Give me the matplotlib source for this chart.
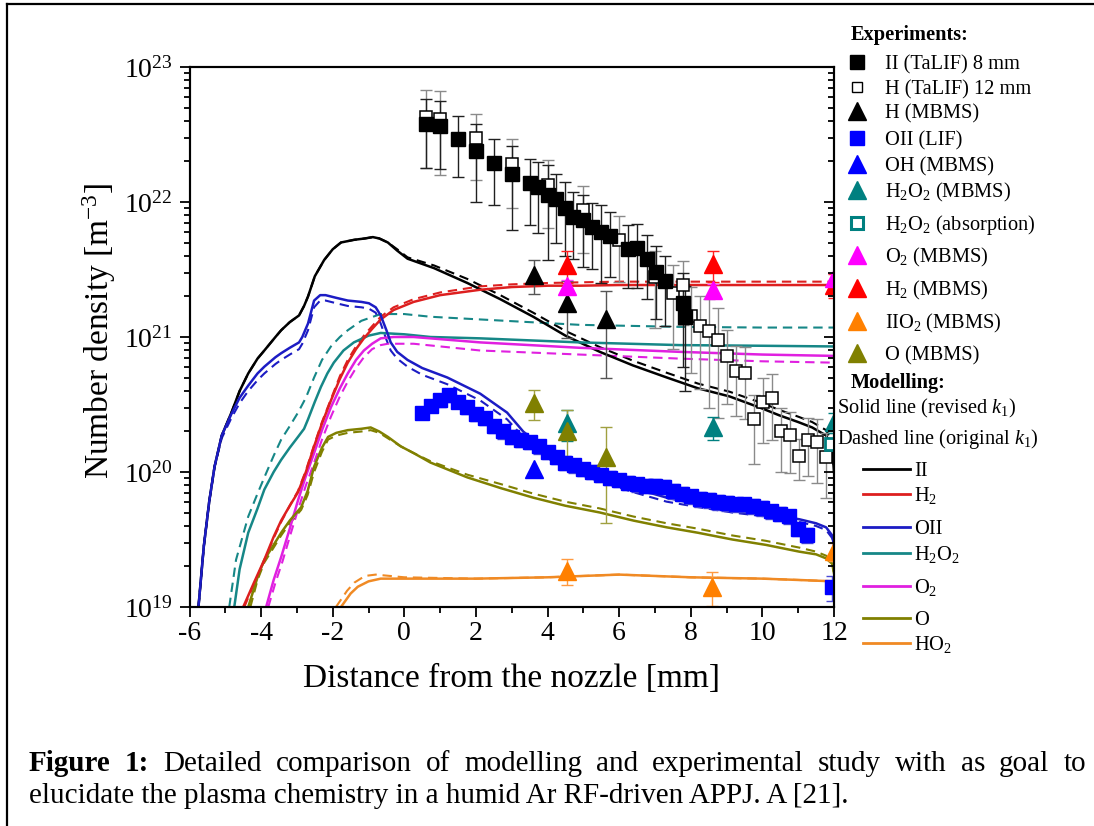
import numpy as np
import matplotlib
matplotlib.use('Agg')
import matplotlib.pyplot as plt
from matplotlib.lines import Line2D
from matplotlib.ticker import MultipleLocator, LogLocator, NullFormatter

plt.rcParams['font.family'] = ['Liberation Serif', 'DejaVu Serif']
plt.rcParams['mathtext.fontset'] = 'custom'
plt.rcParams['mathtext.rm'] = 'Liberation Serif'
plt.rcParams['mathtext.it'] = 'Liberation Serif:italic'
plt.rcParams['mathtext.bf'] = 'Liberation Serif:bold'

# ---------------- experimental data ----------------
h8_x = [0.61, 1.0, 1.51, 2.0, 2.51, 3.01, 3.51, 3.74, 4.0, 4.24, 4.49, 4.72, 4.98, 5.23,
        5.49, 5.75, 6.26, 6.51, 6.77, 7.02, 7.28, 7.78, 7.84]
h8_y = [3.80e22, 3.67e22, 2.92e22, 2.40e22, 1.95e22, 1.62e22, 1.38e22, 1.29e22, 1.12e22,
        1.05e22, 9.0e21, 7.8e21, 7.3e21, 6.5e21, 6.0e21, 5.6e21, 4.5e21, 4.6e21, 3.8e21,
        3.05e21, 2.6e21, 1.8e21, 1.4e21]
h8_err = [2.0e22, 1.9e22, 1.4e22, 1.4e22, 1.0e22, 1.0e22, 0.7e22, 0.7e22, 0.75e22, 0.55e22,
          0.5e22, 0.4e22, 0.4e22, 0.33e22, 0.35e22, 0.28e22, 0.22e22, 0.23e22, 0.19e22,
          0.17e22, 0.14e22, 0.12e22, 0.1e22]

h12_x = [0.61, 1.0, 2.0, 3.01, 4.0, 5.0, 6.0, 7.0, 7.5, 7.78, 8.01, 8.26, 8.51, 8.77, 9.02,
         9.27, 9.52, 9.77, 10.01, 10.26, 10.51, 10.77, 11.03, 11.27, 11.52, 11.77]
h12_y = [4.29e22, 4.09e22, 2.96e22, 1.91e22, 1.34e22, 8.7e21, 5.24e21, 2.77e21, 2.11e21,
         2.43e21, 1.44e21, 1.21e21, 1.10e21, 9.5e20, 7.2e20, 5.6e20, 5.45e20, 2.45e20,
         3.28e20, 3.52e20, 2.0e20, 1.88e20, 1.32e20, 1.73e20, 1.66e20, 1.29e20]
h12_err = [2.5e22, 2.5e22, 1.5e22, 1.0e22, 0.7e22, 4.5e21, 2.7e21, 1.6e21, 1.3e21, 1.2e21,
           0.9e21, 0.8e21, 0.8e21, 0.7e21, 4e20, 3e20, 3e20, 1.3e20, 1.65e20, 1.8e20,
           1.0e20, 0.9e20, 0.45e20, 0.8e20, 0.83e20, 0.65e20]

h_mbms_x = [3.63, 4.55, 5.63]
h_mbms_y = [2.9e21, 1.78e21, 1.35e21]
h_mbms_err = [0.8e21, 0.8e21, 0.85e21]

oh_lif_x = [0.5, 0.75, 1.0, 1.25, 1.5, 1.75, 2.0, 2.25, 2.5, 2.75, 3.0, 3.25, 3.5, 3.75, 4.0,
            4.25, 4.5, 4.75, 5.0, 5.25, 5.5, 5.75, 6.0, 6.25, 6.5, 6.75, 7.0, 7.25, 7.5, 7.75,
            8.0, 8.25, 8.5, 8.75, 9.0, 9.25, 9.5, 9.75, 10.0, 10.25, 10.5, 10.75, 11.0, 11.25,
            11.95]
oh_lif_y = [2.75e20, 3.09e20, 3.39e20, 3.72e20, 3.31e20, 3.02e20, 2.69e20, 2.51e20, 2.19e20,
            2.0e20, 1.82e20, 1.74e20, 1.66e20, 1.55e20, 1.41e20, 1.29e20, 1.17e20, 1.12e20,
            1.05e20, 1.0e20, 9.5e19, 9.1e19, 8.7e19, 8.3e19, 8.1e19, 7.9e19, 7.9e19, 7.8e19,
            7.2e19, 6.9e19, 6.6e19, 6.3e19, 6.2e19, 6.0e19, 5.9e19, 5.75e19, 5.75e19, 5.6e19,
            5.4e19, 5.1e19, 4.9e19, 4.7e19, 3.8e19, 3.4e19, 1.41e19]
oh_lif_err = [3.0e19, 3.2e19, 3.5e19, 4.0e19, 3.5e19, 3.2e19, 3.0e19, 2.8e19, 2.5e19, 2.3e19,
              2.1e19, 2.0e19, 1.9e19, 1.8e19, 1.6e19, 1.5e19, 1.4e19, 1.3e19, 1.2e19, 1.2e19,
              1.1e19, 1.1e19, 1.0e19, 1.0e19, 1.0e19, 0.95e19, 0.95e19, 0.95e19, 0.9e19,
              0.85e19, 0.8e19, 0.8e19, 0.75e19, 0.75e19, 0.72e19, 0.7e19, 0.7e19, 0.68e19,
              0.65e19, 0.62e19, 0.6e19, 0.57e19, 0.47e19, 0.42e19, 0.3e19]

oh_mbms_x = [3.63]
oh_mbms_y = [1.05e20]

h2o2_mbms_x = [4.55, 8.61, 12.0]
h2o2_mbms_y = [2.3e20, 2.14e20, 2.34e20]
h2o2_mbms_err = [0.6e20, 0.4e20, 0.4e20]

h2o2_abs_x = [11.93]
h2o2_abs_y = [1.62e20]

o2_mbms_x = [4.55, 8.61, 12.0]
o2_mbms_y = [2.4e21, 2.24e21, 2.75e21]
o2_mbms_err = [0.25e21, 0.25e21, 0.25e21]

h2_mbms_x = [4.55, 8.61, 12.0]
h2_mbms_y = [3.4e21, 3.45e21, 2.43e21]
h2_mbms_err = [0.9e21, 0.9e21, 0.5e21]

ho2_mbms_x = [4.55, 8.58, 12.0]
ho2_mbms_y = [1.86e19, 1.41e19, 2.6e19]
ho2_mbms_err = [0.4e19, 0.4e19, 0.4e19]

o_mbms_x = [3.63, 4.55, 5.63]
o_mbms_y = [3.24e20, 2.0e20, 1.29e20]
o_mbms_err = [0.8e20, 0.9e20, 0.87e20]

# ---------------- model curves (log10 of number density) ----------------
h_sol_x = [-5.75, -5.6, -5.45, -5.3, -5.1, -4.83, -4.6, -4.36, -4.1, -3.91, -3.6, -3.44, -3.2,
           -2.94, -2.8, -2.69, -2.5, -2.24, -2.0, -1.77, -1.4, -1.1, -0.88, -0.7, -0.46, -0.2,
           0.09, 0.83, 1.76, 2.68, 3.6, 4.5, 5.46, 6.38, 7.33, 8.2, 9.08, 10.0, 10.47, 11.0,
           11.39, 11.78, 11.95, 12.0]
h_sol_log = [19.0, 19.45, 19.78, 20.04, 20.27, 20.44, 20.6, 20.73, 20.84, 20.90, 21.0, 21.05,
             21.11, 21.16, 21.23, 21.30, 21.45, 21.57, 21.65, 21.70, 21.72, 21.73, 21.74, 21.73,
             21.70, 21.64, 21.58, 21.51, 21.40, 21.28, 21.15, 21.01, 20.89, 20.79, 20.70,
             20.62, 20.56, 20.47, 20.42, 20.37, 20.33, 20.27, 20.18, 20.0]
h_das_x = h_sol_x
h_das_log = [19.0, 19.45, 19.78, 20.04, 20.27, 20.44, 20.6, 20.73, 20.84, 20.90, 21.0, 21.05,
             21.11, 21.16, 21.23, 21.30, 21.45, 21.57, 21.65, 21.70, 21.72, 21.73, 21.74, 21.73,
             21.70, 21.65, 21.59, 21.53, 21.43, 21.31, 21.18, 21.045, 20.925, 20.825, 20.735,
             20.655, 20.595, 20.51, 20.46, 20.41, 20.37, 20.31, 20.22, 20.0]

oh_sol_x = [-5.75, -5.6, -5.45, -5.3, -5.1, -4.83, -4.6, -4.36, -4.1, -3.91, -3.6, -3.44, -3.2,
            -2.94, -2.85, -2.69, -2.52, -2.35, -2.2, -1.9, -1.58, -1.2, -0.99, -0.8, -0.66,
            -0.5, -0.38, -0.2, 0.09, 0.5, 1.2, 2.12, 2.87, 3.32, 4.0, 4.7, 5.46, 6.4, 7.33,
            8.2, 9.16, 10.1, 11.03, 11.5, 11.78, 11.95, 12.0]
oh_sol_log = [19.0, 19.45, 19.78, 20.04, 20.27, 20.43, 20.55, 20.64, 20.73, 20.78, 20.85,
              20.88, 20.92, 20.96, 21.0, 21.10, 21.27, 21.31, 21.31, 21.29, 21.27, 21.26,
              21.25, 21.22, 21.16, 21.05, 20.96, 20.89, 20.83, 20.77, 20.70, 20.58, 20.44,
              20.30, 20.15, 20.03, 19.96, 19.88, 19.81, 19.76, 19.72, 19.69, 19.65, 19.62,
              19.59, 19.53, 19.45]
oh_das_x = oh_sol_x
oh_das_log = [19.0, 19.45, 19.78, 20.04, 20.25, 20.40, 20.51, 20.60, 20.68, 20.73, 20.80,
              20.83, 20.87, 20.91, 20.95, 21.05, 21.22, 21.27, 21.27, 21.25, 21.23, 21.22,
              21.21, 21.18, 21.10, 20.98, 20.90, 20.84, 20.78, 20.72, 20.65, 20.53, 20.39,
              20.26, 20.10, 20.00, 19.93, 19.85, 19.78, 19.74, 19.70, 19.67, 19.63, 19.60,
              19.57, 19.51, 19.43]

h2_sol_x = [-4.5, -4.2, -3.91, -3.65, -3.44, -3.2, -2.97, -2.75, -2.52, -2.3, -2.05, -1.8,
            -1.58, -1.35, -1.13, -0.9, -0.66, -0.3, 0.26, 1.0, 2.12, 3.0, 4.0, 4.9, 6.0, 8.0,
            10.0, 12.0]
h2_sol_log = [19.0, 19.18, 19.35, 19.52, 19.64, 19.75, 19.85, 20.0, 20.19, 20.36, 20.53,
              20.69, 20.81, 20.91, 20.99, 21.06, 21.13, 21.20, 21.26, 21.31, 21.35, 21.37,
              21.38, 21.38, 21.385, 21.385, 21.385, 21.385]
h2_das_x = [-4.47, -4.2, -3.91, -3.65, -3.44, -3.2, -2.97, -2.75, -2.52, -2.3, -2.05, -1.8,
            -1.58, -1.35, -1.13, -0.9, -0.66, -0.3, 0.26, 1.0, 2.12, 3.0, 4.0, 4.9, 6.0, 8.0,
            10.0, 12.0]
h2_das_log = [19.0, 19.17, 19.34, 19.51, 19.63, 19.75, 19.86, 20.01, 20.2, 20.37, 20.54,
              20.71, 20.83, 20.93, 21.01, 21.08, 21.15, 21.22, 21.28, 21.33, 21.375, 21.39,
              21.40, 21.405, 21.41, 21.41, 21.41, 21.41]

h2o2_sol_x = [-4.75, -4.6, -4.36, -4.1, -3.91, -3.65, -3.44, -3.2, -2.97, -2.8, -2.69, -2.5,
              -2.33, -2.15, -1.97, -1.7, -1.41, -1.0, -0.66, 0.0, 0.73, 2.12, 4.9, 7.69, 10.0,
              12.0]
h2o2_sol_log = [19.0, 19.28, 19.55, 19.73, 19.87, 20.0, 20.09, 20.18, 20.26, 20.32, 20.39,
                20.52, 20.63, 20.73, 20.81, 20.90, 20.96, 21.01, 21.03, 21.02, 21.00, 20.99,
                20.96, 20.94, 20.935, 20.93]
h2o2_das_x = [-4.89, -4.7, -4.36, -4.1, -3.91, -3.65, -3.44, -3.2, -2.97, -2.75, -2.52, -2.3,
              -2.05, -1.8, -1.58, -1.2, -0.66, 0.0, 0.73, 2.12, 4.9, 7.69, 10.0, 12.0]
h2o2_das_log = [19.0, 19.35, 19.67, 19.84, 19.96, 20.12, 20.24, 20.34, 20.44, 20.55, 20.70,
                20.83, 20.93, 21.0, 21.05, 21.12, 21.17, 21.17, 21.15, 21.13, 21.09, 21.075,
                21.07, 21.07]

o2_sol_x = [-3.86, -3.65, -3.44, -3.2, -2.97, -2.75, -2.52, -2.3, -2.05, -1.8, -1.58, -1.35,
            -1.13, -0.9, -0.66, -0.3, 0.26, 2.12, 4.9, 7.69, 10.0, 12.0]
o2_sol_log = [19.0, 19.2, 19.37, 19.58, 19.79, 19.97, 20.14, 20.31, 20.48, 20.62, 20.73,
              20.83, 20.90, 20.95, 20.99, 21.0, 21.0, 20.96, 20.92, 20.89, 20.87, 20.86]
o2_das_x = [-3.8, -3.6, -3.4, -3.2, -2.97, -2.75, -2.52, -2.3, -2.05, -1.8, -1.58, -1.35,
            -1.13, -0.9, -0.66, -0.46, 0.26, 2.12, 4.9, 7.69, 10.0, 12.0]
o2_das_log = [19.0, 19.18, 19.34, 19.52, 19.72, 19.9, 20.07, 20.24, 20.41, 20.56, 20.67,
              20.77, 20.85, 20.91, 20.94, 20.95, 20.95, 20.90, 20.87, 20.84, 20.82, 20.81]

o_sol_x = [-4.36, -4.1, -3.91, -3.65, -3.44, -3.2, -2.88, -2.7, -2.52, -2.3, -2.13, -1.9,
           -1.58, -1.2, -0.94, -0.7, -0.46, -0.1, 0.26, 0.73, 1.76, 2.7, 3.6, 4.5, 5.46, 6.4,
           7.33, 8.2, 9.16, 10.1, 11.03, 11.5, 11.78, 11.95, 12.0]
o_sol_log = [19.0, 19.22, 19.35, 19.46, 19.55, 19.64, 19.74, 19.86, 20.04, 20.18, 20.26,
             20.29, 20.31, 20.32, 20.33, 20.30, 20.26, 20.19, 20.14, 20.07, 19.96, 19.88,
             19.81, 19.75, 19.70, 19.64, 19.59, 19.55, 19.50, 19.46, 19.41, 19.39, 19.36,
             19.32, 19.25]
o_das_x = [-4.3, -4.1, -3.91, -3.65, -3.44, -3.2, -2.88, -2.7, -2.52, -2.3, -2.13, -1.9,
           -1.58, -1.2, -0.94, -0.7, -0.46, -0.1, 0.26, 0.73, 1.76, 2.7, 3.6, 4.5, 5.46, 6.4,
           7.33, 8.2, 9.16, 10.1, 11.03, 11.5, 11.78, 11.95, 12.0]
o_das_log = [19.0, 19.2, 19.33, 19.44, 19.53, 19.62, 19.72, 19.83, 20.0, 20.15, 20.24,
             20.27, 20.29, 20.30, 20.31, 20.29, 20.25, 20.19, 20.14, 20.08, 19.98, 19.91,
             19.84, 19.78, 19.73, 19.67, 19.62, 19.58, 19.53, 19.49, 19.44, 19.41, 19.38,
             19.33, 19.25]

ho2_sol_x = [-1.77, -1.5, -1.3, -1.0, -0.66, 0.0, 2.0, 4.0, 5.0, 6.0, 7.0, 8.0, 10.0, 11.03, 12.0]
ho2_sol_log = [19.0, 19.1, 19.15, 19.19, 19.21, 19.21, 19.21, 19.22, 19.23, 19.24, 19.23,
               19.22, 19.21, 19.20, 19.19]
ho2_das_x = [-1.91, -1.6, -1.4, -1.1, -0.8, 0.0, 2.0, 4.0, 5.0, 6.0, 7.0, 8.0, 10.0, 11.03, 12.0]
ho2_das_log = [19.0, 19.12, 19.18, 19.23, 19.24, 19.22, 19.21, 19.22, 19.23, 19.24, 19.23,
               19.22, 19.21, 19.20, 19.19]

x_ticks = [-6, -4, -2, 0, 2, 4, 6, 8, 10, 12]

C_H = 'black'
C_H2 = '#dd1f1f'
C_OH = '#1c1cc4'
C_H2O2 = '#168787'
C_O2 = '#e020e0'
C_O = '#808000'
C_HO2 = '#f08a24'

# ---------------- figure ----------------
W, H = 1094, 826
fig = plt.figure(figsize=(W / 100, H / 100), dpi=100)


def fx(px):
    return px / W


def fy(py):
    return 1 - py / H


L, R, T, B = 189.5, 834.0, 67.0, 607.0
ax = fig.add_axes([fx(L), fy(B), (R - L) / W, (B - T) / H])
ax.set_yscale('log')
ax.set_xlim(-6, 12)
ax.set_ylim(1e19, 1e23)

lw_s, lw_d = 1.8, 1.5
dash = (0, (4.5, 2.8))
models = [
    (h_sol_x, h_sol_log, h_das_x, h_das_log, C_H),
    (h2o2_sol_x, h2o2_sol_log, h2o2_das_x, h2o2_das_log, C_H2O2),
    (o2_sol_x, o2_sol_log, o2_das_x, o2_das_log, C_O2),
    (o_sol_x, o_sol_log, o_das_x, o_das_log, C_O),
    (ho2_sol_x, ho2_sol_log, ho2_das_x, ho2_das_log, C_HO2),
    (h2_sol_x, h2_sol_log, h2_das_x, h2_das_log, C_H2),
    (oh_sol_x, oh_sol_log, oh_das_x, oh_das_log, C_OH),
]
for xs, ls_, xd, ld, c in models:
    ax.plot(xd, 10 ** np.array(ld), color=c, lw=lw_d, ls=dash, zorder=2)
    ax.plot(xs, 10 ** np.array(ls_), color=c, lw=lw_s, zorder=2.1)

eb = dict(fmt='none', elinewidth=1.0, capsize=4.5, capthick=1.0, zorder=3)
ax.errorbar(h12_x, h12_y, yerr=h12_err, ecolor='#8a8a8a', **eb)
ax.errorbar(h8_x, h8_y, yerr=h8_err, ecolor='#202020', **eb)
ax.plot(h12_x, h12_y, ls='none', marker='s', ms=8.5, mfc='white', mec='black', mew=1.1, zorder=4)
ax.plot(h8_x, h8_y, ls='none', marker='s', ms=10, mfc='black', mec='black', zorder=4.1)

ax.errorbar(oh_lif_x, oh_lif_y, yerr=oh_lif_err, ecolor='#4a4ad6', **eb)
ax.plot(oh_lif_x, oh_lif_y, ls='none', marker='s', ms=9.5, mfc='#0000ff', mec='#0000ff', zorder=4)

tri = dict(ls='none', marker='^', ms=13, zorder=5)
ax.errorbar(h_mbms_x, h_mbms_y, yerr=h_mbms_err, ecolor='#555555', **eb)
ax.plot(h_mbms_x, h_mbms_y, mfc='black', mec='black', **tri)
ax.plot(oh_mbms_x, oh_mbms_y, mfc='#0000ff', mec='#0000ff', **tri)
ax.errorbar(h2o2_mbms_x, h2o2_mbms_y, yerr=h2o2_mbms_err, ecolor='#008080', **eb)
ax.plot(h2o2_mbms_x, h2o2_mbms_y, mfc='#008080', mec='#008080', **tri)
ax.plot(h2o2_abs_x, h2o2_abs_y, ls='none', marker='s', ms=8, mfc='white', mec='#008080',
        mew=2, zorder=5)
ax.errorbar(h2_mbms_x, h2_mbms_y, yerr=h2_mbms_err, ecolor='#ff2020', **eb)
ax.plot(h2_mbms_x, h2_mbms_y, mfc='#ff0000', mec='#ff0000', **tri)
ax.errorbar(o2_mbms_x, o2_mbms_y, yerr=o2_mbms_err, ecolor='#ff40ff', **eb)
ax.plot(o2_mbms_x, o2_mbms_y, mfc='#ff00ff', mec='#ff00ff', **tri)
ax.errorbar(ho2_mbms_x, ho2_mbms_y, yerr=ho2_mbms_err, ecolor='#ff9a40', **eb)
ax.plot(ho2_mbms_x, ho2_mbms_y, mfc='#ff8000', mec='#ff8000', **tri)
ax.errorbar(o_mbms_x, o_mbms_y, yerr=o_mbms_err, ecolor='#a0a040', **eb)
ax.plot(o_mbms_x, o_mbms_y, mfc='#808000', mec='#808000', **tri)

# axes styling
for s in ax.spines.values():
    s.set_linewidth(1.5)
ax.set_xticks(x_ticks)
ax.set_xticklabels([str(v) for v in x_ticks])
ax.xaxis.set_minor_locator(MultipleLocator(1))
ax.yaxis.set_major_locator(LogLocator(base=10, numticks=10))
ax.yaxis.set_minor_locator(LogLocator(base=10, subs=np.arange(2, 10), numticks=20))
ax.yaxis.set_minor_formatter(NullFormatter())
ax.tick_params(which='both', direction='out', top=False, right=False, width=1.3)
ax.tick_params(which='major', length=7)
ax.tick_params(which='minor', length=4)
ax.tick_params(axis='x', labelsize=20, pad=3)
ax.tick_params(axis='y', labelsize=20, pad=5)

ax2 = ax.twinx()
ax2.set_yscale('log')
ax2.set_ylim(1e19, 1e23)
ax2.yaxis.set_major_locator(LogLocator(base=10, numticks=10))
ax2.yaxis.set_minor_locator(LogLocator(base=10, subs=np.arange(2, 10), numticks=20))
ax2.yaxis.set_minor_formatter(NullFormatter())
ax2.tick_params(axis='y', which='both', direction='in', labelright=False, width=1.3)
ax2.tick_params(axis='y', which='major', length=7)
ax2.tick_params(axis='y', which='minor', length=4)
for s in ax2.spines.values():
    s.set_linewidth(1.5)

ax.set_xlabel('Distance from the nozzle [mm]', fontsize=24)
ax.xaxis.label.set_va('center')
ax.xaxis.set_label_coords(0.5, (B - 679) / (B - T))
ax.set_ylabel('Number density [m$^{\\mathregular{-3}}$]', fontsize=24)
ax.yaxis.label.set_va('center')
ax.yaxis.set_label_coords((99 - L) / (R - L), (B - 331) / (B - T))

# ---------------- legend (manual) ----------------
LFS = 14.7
mk_x = 857
tx = 885


def ftext(x, y, s, **kw):
    return fig.text(fx(x), fy(y + 7), s, fontsize=LFS, va='baseline', ha='left', **kw)


ftext(851, 33, 'Experiments:', fontweight='bold')
exp_rows = [
    (62, 's', 'black', 'black', 1.0, 10, 'II (TaLIF) 8 mm'),
    (87, 's', 'white', 'black', 1.0, 7.5, 'H (TaLIF) 12 mm'),
    (111, '^', 'black', 'black', 1.0, 13, 'H (MBMS)'),
    (138, 's', '#0000ff', '#0000ff', 1.0, 10, 'OII (LIF)'),
    (164, '^', '#0000ff', '#0000ff', 1.0, 13, 'OH (MBMS)'),
    (190, '^', '#008080', '#008080', 1.0, 13, 'H$_2$O$_2$ (MBMS)'),
    (223, 's', 'white', '#008080', 2.2, 9, 'H$_2$O$_2$ (absorption)'),
    (255, '^', '#ff00ff', '#ff00ff', 1.0, 13, 'O$_2$ (MBMS)'),
    (288, '^', '#ff0000', '#ff0000', 1.0, 13, 'H$_2$ (MBMS)'),
    (321, '^', '#ff8000', '#ff8000', 1.0, 13, 'IIO$_2$ (MBMS)'),
    (353, '^', '#808000', '#808000', 1.0, 13, 'O (MBMS)'),
]
for y, m, fc, ec, mew, ms, lab in exp_rows:
    fig.add_artist(Line2D([fx(mk_x)], [fy(y)], marker=m, ms=ms, mfc=fc, mec=ec, mew=mew,
                          ls='none', transform=fig.transFigure))
    ftext(tx, y, lab)

ftext(851, 381, 'Modelling:', fontweight='bold')
ftext(837, 406, 'Solid line (revised $k_1$)')
ftext(837, 437, 'Dashed line (original $k_1$)')
mod_rows = [
    (469, C_H, 'II'), (494, C_H2, 'H$_2$'), (527, C_OH, 'OII'), (553, C_H2O2, 'H$_2$O$_2$'),
    (586, C_O2, 'O$_2$'), (618, C_O, 'O'), (643, C_HO2, 'HO$_2$'),
]
for y, c, lab in mod_rows:
    fig.add_artist(Line2D([fx(863), fx(910)], [fy(y), fy(y)], color=c, lw=2,
                          transform=fig.transFigure))
    ftext(914, y, lab)

# ---------------- border ----------------
fig.add_artist(Line2D([fx(7), fx(7)], [fy(4), fy(830)], color='black', lw=1.6,
                      transform=fig.transFigure))
fig.add_artist(Line2D([fx(7), fx(1094)], [fy(4), fy(4)], color='black', lw=1.6,
                      transform=fig.transFigure))

# ---------------- caption ----------------
CFS = 21
words = [('Figure', True), ('1:', True), ('Detailed', False), ('comparison', False),
         ('of', False), ('modelling', False), ('and', False), ('experimental', False),
         ('study', False), ('with', False), ('as', False), ('goal', False), ('to', False)]
texts = [fig.text(0, fy(771), w, fontsize=CFS, fontweight='bold' if b else 'normal',
                  va='baseline', ha='left') for w, b in words]
fig.canvas.draw()
rend = fig.canvas.get_renderer()
widths = [t.get_window_extent(rend).width for t in texts]
x0, x1 = 29, 1086
gap = (x1 - x0 - sum(widths)) / (len(words) - 1)
xc = x0
for t, wd in zip(texts, widths):
    t.set_x(fx(xc))
    xc += wd + gap
fig.text(fx(29), fy(803), 'elucidate the plasma chemistry in a humid Ar RF-driven APPJ. A [21].',
         fontsize=CFS, va='baseline', ha='left')

fig.savefig('out.png', dpi=100)
